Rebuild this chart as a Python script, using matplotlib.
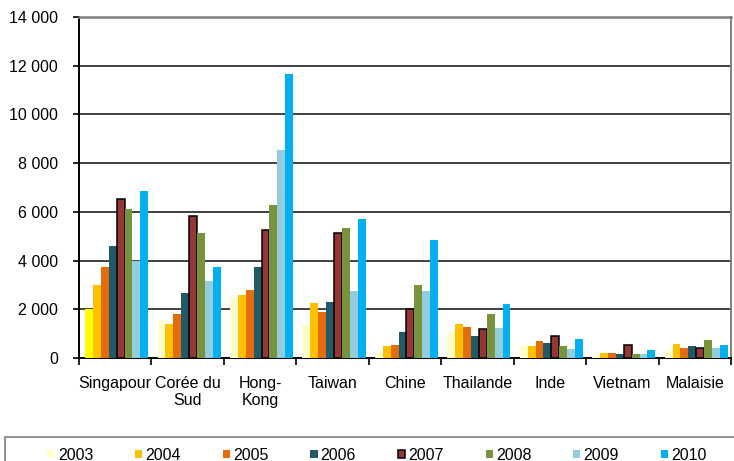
import numpy as np
import matplotlib.pyplot as plt
from matplotlib.patches import Rectangle, Patch
from matplotlib.ticker import FuncFormatter

plt.rcParams['font.family'] = ['Liberation Sans', 'DejaVu Sans']

# Pays et années
pays = ['Singapour', 'Corée du\nSud', 'Hong-\nKong', 'Taiwan', 'Chine',
        'Thailande', 'Inde', 'Vietnam', 'Malaisie']
annees = ['2003', '2004', '2005', '2006', '2007', '2008', '2009', '2010']

# Valeurs par année (une liste par année, dans l'ordre des pays)
v2003 = [2000, 1520, 2450, 1350, 200, 1050, 500, 100, 270]
v2004 = [3000, 1400, 2600, 2250, 500, 1380, 500, 200, 570]
v2005 = [3750, 1800, 2800, 1900, 550, 1270, 700, 200, 430]
v2006 = [4600, 2650, 3750, 2300, 1050, 900, 600, 150, 480]
v2007 = [6520, 5850, 5250, 5150, 2000, 1200, 900, 550, 400]
v2008 = [6100, 5150, 6300, 5350, 3000, 1800, 500, 150, 740]
v2009 = [4000, 3150, 8550, 2750, 2750, 1250, 370, 150, 430]
v2010 = [6850, 3750, 11650, 5700, 4850, 2200, 800, 320, 530]
valeurs = [v2003, v2004, v2005, v2006, v2007, v2008, v2009, v2010]

couleurs = ['#FFFFCC', '#FFC000', '#E46C0A', '#215968',
            '#953735', '#77933C', '#93CDDD', '#00B0F0']

fig = plt.figure(figsize=(7.34, 4.61), dpi=100)
ax = fig.add_axes([79 / 734, 1 - 358 / 461, 652 / 734, 341 / 461])

x = np.arange(len(pays))
w = 0.109
handles = []
for i, (an, vals) in enumerate(zip(annees, valeurs)):
    bord = 'black' if an == '2007' else 'none'
    bars = ax.bar(x + (i - 3.5) * w + 0.02, vals, w, color=couleurs[i],
                  edgecolor=bord, linewidth=1.1, zorder=3)
    if an == '2003':
        # Singapour 2003 en jaune vif
        bars[0].set_facecolor('#FFFF00')
    handles.append(Patch(facecolor=couleurs[i], edgecolor=bord,
                         linewidth=1.1, label=an))

ax.set_ylim(0, 14000)
ax.set_xlim(-0.5, len(pays) - 0.5)
ax.set_yticks(np.arange(0, 14001, 2000))
ax.yaxis.set_major_formatter(FuncFormatter(lambda v, p: f'{int(v):,}'.replace(',', ' ')))
for y in range(2000, 14000, 2000):
    ax.axhline(y, color='#404040', linewidth=1.4, zorder=1)

ax.set_xticks(x)
ax.set_xticklabels(pays, linespacing=1.2)
ax.set_xticks(np.arange(-0.5, len(pays), 1), minor=True)
ax.tick_params(axis='x', which='major', length=0, pad=13, labelsize=11.5)
ax.tick_params(axis='x', which='minor', length=5, width=1.2, direction='out')
ax.tick_params(axis='y', length=4, width=1.2, pad=11, labelsize=11.5)

ax.spines['left'].set_color('black')
ax.spines['left'].set_linewidth(1.4)
ax.spines['bottom'].set_color('black')
ax.spines['bottom'].set_linewidth(1.4)
ax.spines['top'].set_color('#7F7F7F')
ax.spines['top'].set_linewidth(1.8)
ax.spines['right'].set_color('#7F7F7F')
ax.spines['right'].set_linewidth(1.4)

# Cadre de la légende, coupé par le bord de la figure
fig.patches.append(Rectangle((5 / 734, -0.05), 1.0, 0.05 + 24 / 461,
                             transform=fig.transFigure, fill=False,
                             edgecolor='#7F7F7F', linewidth=1.2))

fig.legend(handles=handles, loc='center', ncol=8, frameon=False,
           bbox_to_anchor=(377 / 734, 6 / 461), fontsize=11.5,
           handlelength=0.45, handleheight=0.45, handletextpad=0.2,
           columnspacing=2.62, borderpad=0)

fig.savefig('out.png', dpi=100)
